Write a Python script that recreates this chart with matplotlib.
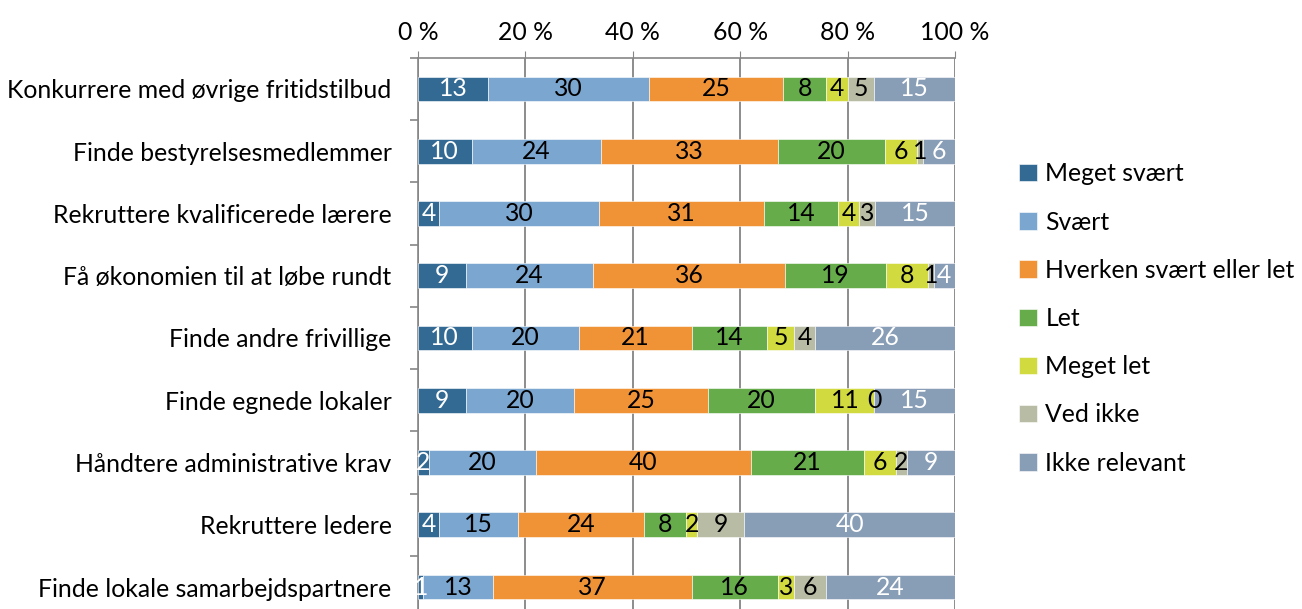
import matplotlib.pyplot as plt
import numpy as np

plt.rcParams['font.family'] = ['Lato', 'DejaVu Sans']

categories = [
    'Konkurrere med øvrige fritidstilbud',
    'Finde bestyrelsesmedlemmer',
    'Rekruttere kvalificerede lærere',
    'Få økonomien til at løbe rundt',
    'Finde andre frivillige',
    'Finde egnede lokaler',
    'Håndtere administrative krav',
    'Rekruttere ledere',
    'Finde lokale samarbejdspartnere',
]

series_names = ['Meget svært', 'Svært', 'Hverken svært eller let', 'Let',
                'Meget let', 'Ved ikke', 'Ikke relevant']

meget_svaert = [13, 10, 4, 9, 10, 9, 2, 4, 1]
svaert = [30, 24, 30, 24, 20, 20, 20, 15, 13]
hverken = [25, 33, 31, 36, 21, 25, 40, 24, 37]
let = [8, 20, 14, 19, 14, 20, 21, 8, 16]
meget_let = [4, 6, 4, 8, 5, 11, 6, 2, 3]
ved_ikke = [5, 1, 3, 1, 4, 0, 2, 9, 6]
ikke_relevant = [15, 6, 15, 4, 26, 15, 9, 40, 24]

colors = ['#336a94', '#7aa6cf', '#f09337', '#67ac4b', '#d1da3f', '#b9bca5', '#889db6']
text_colors = ['white', 'black', 'black', 'black', 'black', 'black', 'white']

data = np.array([meget_svaert, svaert, hverken, let, meget_let, ved_ikke, ikke_relevant], dtype=float)
shares = data / data.sum(axis=0) * 100

fs = 17.8

fig = plt.figure(figsize=(13.02, 6.09), dpi=100)
ax = fig.add_axes([0.321, -0.015, 0.4125, 0.92])

y = np.arange(len(categories))
left = np.zeros(len(categories))
for i, name in enumerate(series_names):
    ax.barh(y, shares[i], left=left, height=0.4, color=colors[i],
            edgecolor='white', linewidth=0.4, label=name, zorder=3)
    for j in range(len(categories)):
        ax.text(left[j] + shares[i][j] / 2, y[j], f'{int(data[i][j])}',
                ha='center', va='center', fontsize=fs,
                color=text_colors[i], zorder=4)
    left += shares[i]

ax.set_xlim(0, 100)
ax.set_ylim(len(categories) - 0.5, -0.5)
ax.xaxis.tick_top()
ax.set_xticks(np.arange(0, 101, 20))
ax.set_xticklabels([f'{v} %' for v in range(0, 101, 20)], fontsize=fs)
ax.tick_params(axis='x', length=5, color='#868686', pad=5)
ax.grid(axis='x', color='#8c8c8c', linewidth=1.4, zorder=0)

ax.set_yticks(y)
ax.set_yticklabels(categories, fontsize=fs)
ax.set_yticks(np.arange(-0.5, len(categories), 1), minor=True)
ax.tick_params(axis='y', which='major', length=0, pad=19)
ax.tick_params(axis='y', which='minor', length=6, color='#868686', width=1.2)

for side in ['right', 'bottom']:
    ax.spines[side].set_visible(False)
for side in ['left', 'top']:
    ax.spines[side].set_color('#868686')
    ax.spines[side].set_linewidth(1.2)

handles, labels = ax.get_legend_handles_labels()
fig.legend(handles, labels, loc='center left', bbox_to_anchor=(0.783, 0.477),
           frameon=False, fontsize=fs, handlelength=0.7, handleheight=0.7,
           handletextpad=0.35, labelspacing=1.02, borderpad=0, borderaxespad=0)

fig.savefig('out.png', dpi=100)
